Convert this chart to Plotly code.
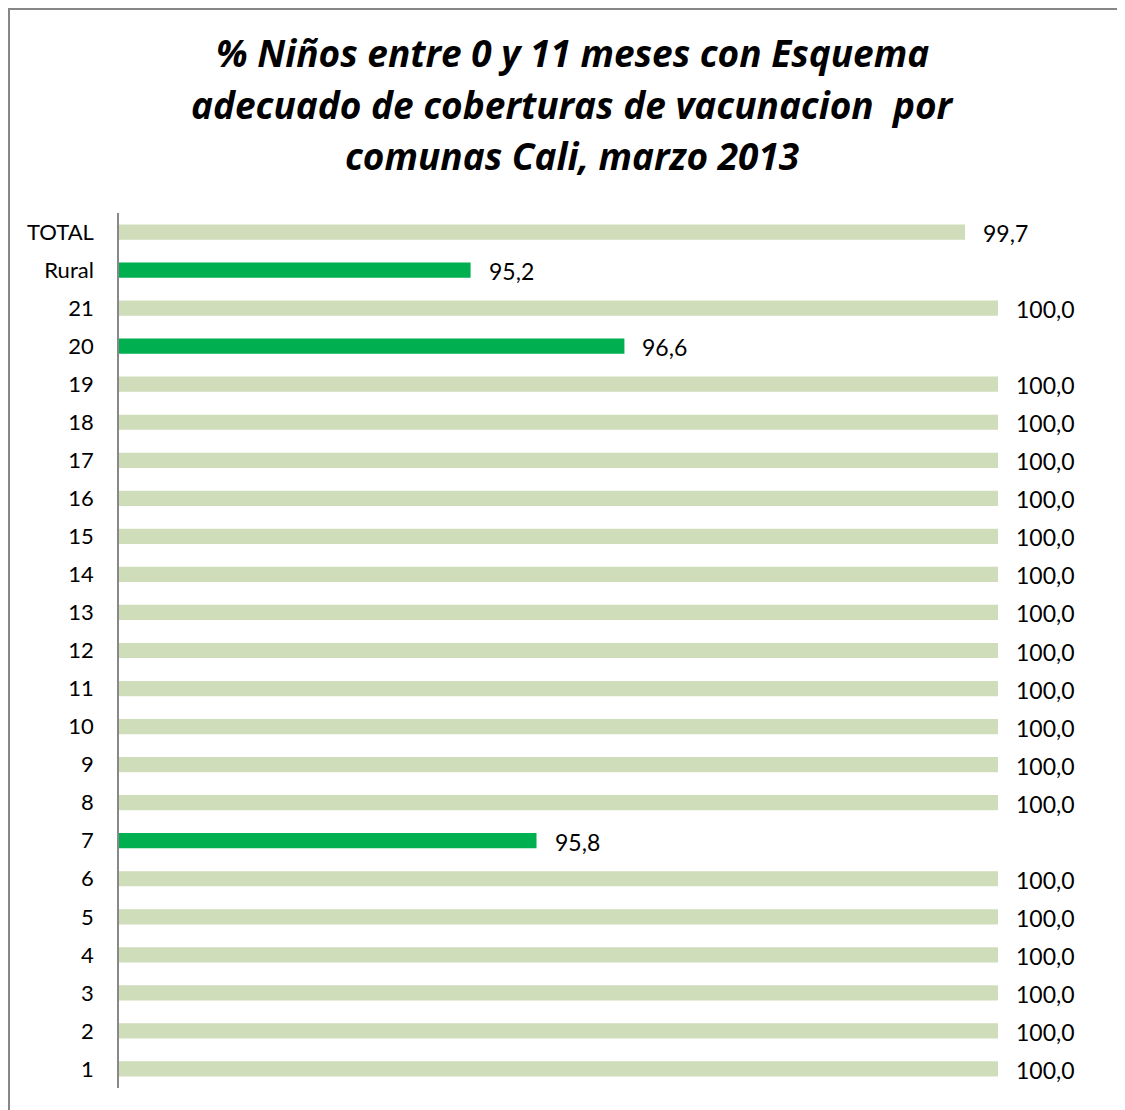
import plotly.graph_objects as go

categories = ["1", "2", "3", "4", "5", "6", "7", "8", "9", "10", "11", "12",
              "13", "14", "15", "16", "17", "18", "19", "20", "21", "Rural", "TOTAL"]
values = [100.0, 100.0, 100.0, 100.0, 100.0, 100.0, 95.8, 100.0, 100.0, 100.0,
          100.0, 100.0, 100.0, 100.0, 100.0, 100.0, 100.0, 100.0, 100.0, 96.6,
          100.0, 95.2, 99.7]
highlight = ["7", "20", "Rural"]

title_lines = ["% Niños entre 0 y 11 meses con Esquema",
               "adecuado de coberturas de vacunacion  por",
               "comunas Cali, marzo 2013"]

LIGHT = "#CFDDBA"
DARK = "#00B050"
colors = [DARK if c in highlight else LIGHT for c in categories]
labels = [f"{v:.1f}".replace(".", ",") for v in values]

OFF = 8  # page body margin
W, H = 1125 - OFF, 1110 - OFF
L, R, T, B = 119 - OFF, 998 - OFF, 213 - OFF, 1088 - OFF
pw, ph = R - L, B - T


def px_x(p):
    return (p - OFF - L) / pw


def px_y(p):
    return (B - (p - OFF)) / ph


fig = go.Figure()
fig.add_trace(go.Bar(
    x=values, y=categories, orientation="h",
    marker=dict(color=colors, line=dict(width=0)),
    hoverinfo="skip",
))

annotations = []
for i, (v, t) in enumerate(zip(values, labels)):
    annotations.append(dict(
        x=v, y=i, xref="x", yref="y", text=t, showarrow=False,
        xanchor="left", yanchor="middle", xshift=16, yshift=-1,
        font=dict(family="Lato", size=23, color="#000000"),
    ))

for i, line in enumerate(title_lines):
    annotations.append(dict(
        x=px_x(572), y=px_y(52 + 52 * i), xref="paper", yref="paper",
        text=f"<b><i>{line}</i></b>", showarrow=False,
        xanchor="center", yanchor="middle",
        font=dict(family="Open Sans", size=37, color="#000000"),
    ))

fig.update_layout(
    width=W, height=H,
    margin=dict(l=L, r=W - R, t=T, b=H - B, autoexpand=False),
    paper_bgcolor="white", plot_bgcolor="white",
    showlegend=False,
    bargap=0.6,
    annotations=annotations,
    shapes=[dict(
        type="rect", xref="paper", yref="paper",
        x0=px_x(OFF + 1), x1=px_x(1140), y0=px_y(1130), y1=px_y(OFF + 1),
        line=dict(color="#878787", width=2), fillcolor="rgba(0,0,0,0)",
        layer="above",
    )],
    xaxis=dict(range=[92, 100], visible=False, fixedrange=True),
    yaxis=dict(
        type="category", categoryorder="array", categoryarray=categories,
        showline=True, linecolor="#888888", linewidth=1.5,
        showgrid=False, zeroline=False, ticks="",
        ticklabelstandoff=19,
        tickfont=dict(family="Lato", size=22, color="#000000"),
        fixedrange=True,
    ),
)

fig.write_html("out.html")
